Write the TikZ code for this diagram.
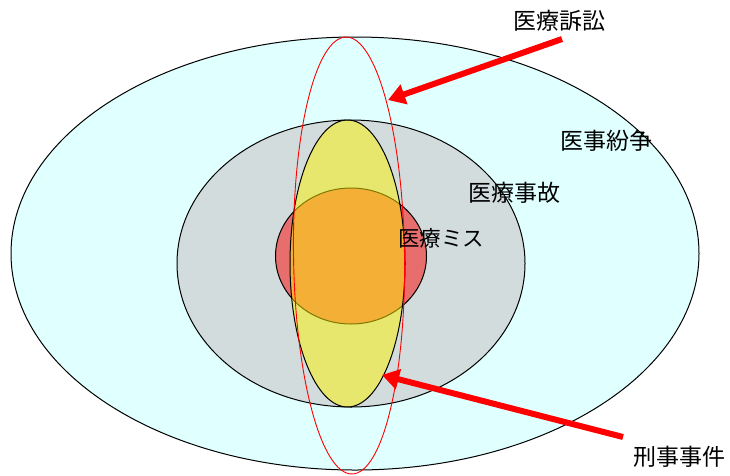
\documentclass[tikz,border=0pt]{standalone}
\usepackage{fontspec}
\newfontfamily\cjk{Noto Sans CJK JP}
\usetikzlibrary{shapes.geometric,arrows.meta}
\definecolor{outerc}{RGB}{224,255,255}
\definecolor{grayc}{RGB}{210,220,220}
\begin{document}
\begin{tikzpicture}[x=1pt,y=-1pt,
  ell/.style={ellipse,inner sep=0pt,draw=black,line width=1pt},
  lbl/.style={font=\cjk\fontsize{23}{23}\selectfont,inner sep=0pt,text=black},
  callout/.style={draw=red,line width=6pt,-{Triangle[length=17pt,width=20pt]}}]
\useasboundingbox (0,0) rectangle (730,475);
\fill[white] (0,0) rectangle (730,475);
\node[ell,fill=outerc,minimum width=688pt,minimum height=433pt] (funso) at (355,253.5) {};
\node[ell,fill=grayc,minimum width=348pt,minimum height=287pt] (jiko) at (351,263.5) {};
\node[ell,fill=red,fill opacity=0.5,minimum width=151pt,minimum height=136pt] (miss) at (351,256) {};
\node[ell,fill=yellow,fill opacity=0.5,minimum width=115pt,minimum height=287pt] (keiji) at (347.5,263.5) {};
\node[ellipse,inner sep=0pt,draw=red,line width=0.9pt,rotate=0.8,minimum width=111pt,minimum height=437pt] (sosho) at (349,255.5) {};
\node[lbl] (lsosho) at (559,21) {医療訴訟};
\node[lbl] (lfunso) at (606,141) {医事紛争};
\node[lbl] (ljiko) at (514,193) {医療事故};
\node[lbl,font=\cjk\fontsize{21.5}{21.5}\selectfont] (lmiss) at (441,238) {医療ミス};
\node[lbl] (lkeiji) at (679,457) {刑事事件};
\coordinate (t1) at (562,39);
\coordinate (h1) at (388,100);
\coordinate (t2) at (623,437);
\coordinate (h2) at (382,375);
\draw[callout] (t1) -- (h1);
\draw[callout] (t2) -- (h2);
\end{tikzpicture}
\end{document}
